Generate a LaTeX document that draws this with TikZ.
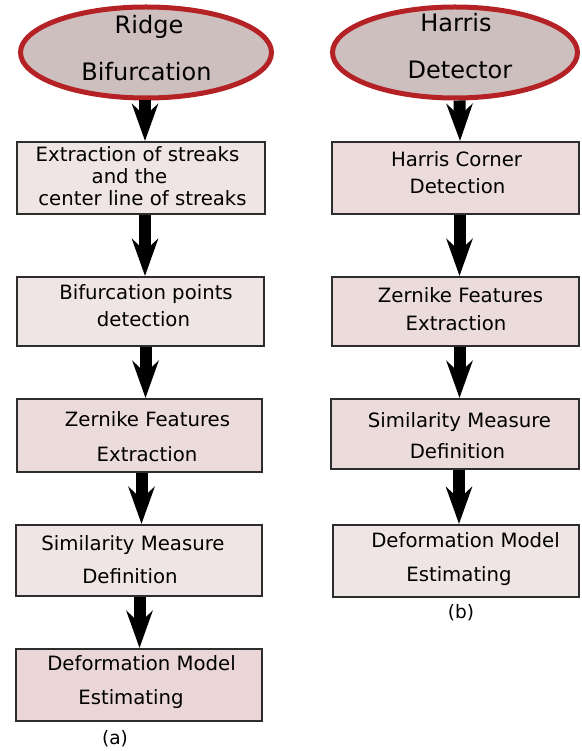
\documentclass[tikz,border=0pt]{standalone}
\usepackage{fontspec}
\setmainfont{DejaVu Sans}
\usetikzlibrary{arrows.meta,shapes.geometric}
\definecolor{ellfill}{RGB}{206,191,191}
\definecolor{ellline}{RGB}{180,34,38}
\definecolor{boxA}{RGB}{240,229,229}
\definecolor{boxB}{RGB}{236,219,219}
\definecolor{boxC}{RGB}{234,214,214}
\definecolor{boxline}{RGB}{45,45,45}
\tikzset{
  ell/.style={ellipse, draw=ellline, line width=5pt, fill=ellfill, inner sep=0pt},
  stepbox/.style={rectangle, draw=boxline, line width=2pt, inner sep=0pt},
  txt/.style={anchor=base, inner sep=0pt, font=\fontsize{19.7}{22}\selectfont},
  etxt/.style={anchor=base, inner sep=0pt, font=\fontsize{24}{28}\selectfont},
  captxt/.style={anchor=center, inner sep=0pt, font=\fontsize{18.5}{22}\selectfont},
  bigarrow/.style={line width=12pt, -{Stealth[length=37pt,width=26pt,inset=12pt]}}
}
\begin{document}
\begin{tikzpicture}[x=1pt,y=-1pt]
\useasboundingbox (0,0) rectangle (581,751);

% ---- left column (a)
\node[ell, minimum width=251pt, minimum height=91pt] (e1) at (146,52.5) {};
\node[etxt] (e1a) at (149,34) {Ridge};
\node[etxt] (e1b) at (146.5,81) {Bifurcation};

\node[stepbox, fill=boxA, minimum width=248pt, minimum height=72pt] (a1) at (141,178) {};
\node[txt] (a1a) at (137.5,162) {Extraction of streaks};
\node[txt] (a1b) at (129.5,183.5) {and the};
\node[txt] (a1c) at (142.5,205.5) {center line of streaks};

\node[stepbox, fill=boxA, minimum width=247pt, minimum height=69pt] (a2) at (140.5,311.5) {};
\node[txt] (a2a) at (146,299.5) {Bifurcation points};
\node[txt] (a2b) at (143.5,326) {detection};

\node[stepbox, fill=boxB, minimum width=245pt, minimum height=73pt] (a3) at (139.5,435.5) {};
\node[txt] (a3a) at (147.5,426.5) {Zernike Features};
\node[txt] (a3b) at (147,461.5) {Extraction};

\node[stepbox, fill=boxA, minimum width=246pt, minimum height=71pt] (a4) at (139,560.5) {};
\node[txt] (a4a) at (133,550) {Similarity Measure};
\node[txt] (a4b) at (130,583) {Definition};

\node[stepbox, fill=boxC, minimum width=246pt, minimum height=72pt] (a5) at (139,685) {};
\node[txt] (a5a) at (141.5,670) {Deformation Model};
\node[txt] (a5b) at (131,704.5) {Estimating};

\node[captxt] (capa) at (115,739) {(a)};

\draw[bigarrow] ([xshift=-1pt]e1.south) -- ([xshift=4pt]a1.north);
\draw[bigarrow] ([xshift=4pt]a1.south) -- ([xshift=4pt]a1.south |- a2.north);
\draw[bigarrow] ([xshift=5pt]a2.south) -- ([xshift=5pt]a2.south |- a3.north);
\draw[bigarrow] ([xshift=2pt]a3.south) -- ([xshift=2pt]a3.south |- a4.north);
\draw[bigarrow] ([xshift=0.5pt]a4.south) -- ([xshift=0.5pt]a4.south |- a5.north);

% ---- right column (b)
\node[ell, minimum width=245pt, minimum height=91pt] (e2) at (455,52.5) {};
\node[etxt] (e2a) at (456,32) {Harris};
\node[etxt] (e2b) at (460,79) {Detector};

\node[stepbox, fill=boxB, minimum width=247pt, minimum height=72pt] (c1) at (455.5,178) {};
\node[txt] (c1a) at (456.5,166.5) {Harris Corner};
\node[txt] (c1b) at (457.5,194) {Detection};

\node[stepbox, fill=boxB, minimum width=247pt, minimum height=69pt] (c2) at (455.5,311.5) {};
\node[txt] (c2a) at (460.5,302) {Zernike Features};
\node[txt] (c2b) at (456,330.5) {Extraction};

\node[stepbox, fill=boxB, minimum width=248pt, minimum height=70pt] (c3) at (455,434) {};
\node[txt] (c3a) at (459.5,427.5) {Similarity Measure};
\node[txt] (c3b) at (457.5,458) {Definition};

\node[stepbox, fill=boxA, minimum width=246pt, minimum height=72pt] (c4) at (456,561) {};
\node[txt] (c4a) at (465.5,547.5) {Deformation Model};
\node[txt] (c4b) at (459,581) {Estimating};

\node[captxt] (capb) at (461,613) {(b)};

\draw[bigarrow] ([xshift=4.5pt]e2.south) -- ([xshift=4.5pt]c1.north);
\draw[bigarrow] ([xshift=4pt]c1.south) -- ([xshift=4pt]c1.south |- c2.north);
\draw[bigarrow] ([xshift=4pt]c2.south) -- ([xshift=4pt]c2.south |- c3.north);
\draw[bigarrow] ([xshift=4pt]c3.south) -- ([xshift=4pt]c3.south |- c4.north);
\end{tikzpicture}
\end{document}
